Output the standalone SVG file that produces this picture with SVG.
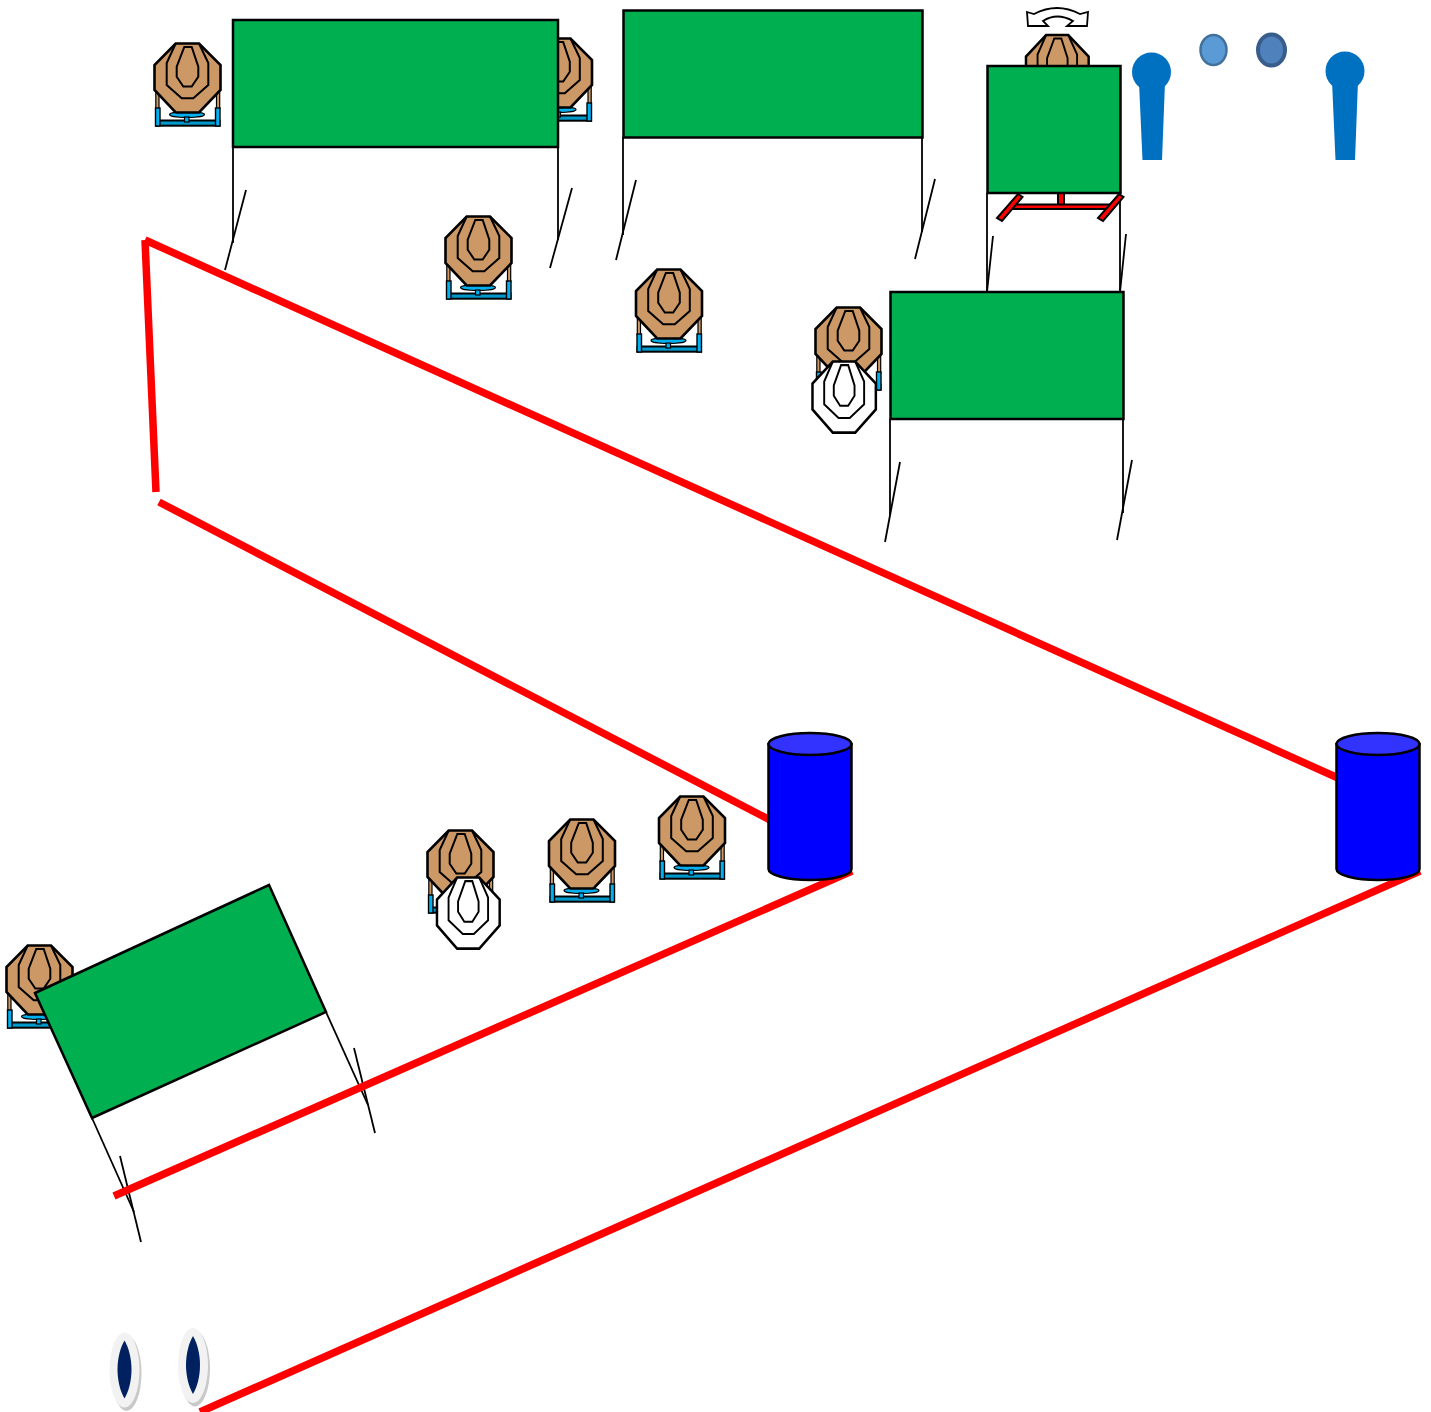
<svg xmlns="http://www.w3.org/2000/svg" xmlns:xlink="http://www.w3.org/1999/xlink" width="1431" height="1412" viewBox="0 0 1431 1412">
<style>
.k{stroke:#000;stroke-width:2.6;stroke-linejoin:miter}
.ring{fill:none;stroke:#000;stroke-width:2;stroke-linejoin:miter}
.board{fill:#00b050;stroke:#000;stroke-width:2.5}
.leg{fill:none;stroke:#000;stroke-width:1.8}
.red{fill:none;stroke:#ff0000;stroke-width:7.500}
.pin{fill:#0070c0}
.drum{fill:#0000ff;stroke:#000;stroke-width:2.5}
.lid{fill:#3333ff;stroke:#000;stroke-width:2.5}
.stand{fill:#ff0000;stroke:#000;stroke-width:2}
.shadow{fill:#c9c9c9}.oval{fill:#f2f2f2}.eye{fill:#002060}
</style>
<defs>
<g id="plate">
<polygon class="k" points="21.700,0.500 45,0.500 66.500,22 66.500,47 45,69.500 21.700,69.500 0.500,47 0.500,22"/>
<path class="ring" d="M21.700 0.500L12.700 20V42L27.700 55.300H39.300L54.300 42V20L45 0.500"/>
<polygon class="ring" points="30.300,4 37.700,4 44.300,23.700 44.300,33.700 37.700,43.500 29.300,43.500 22.700,33.700 22.700,23.700"/>
</g>
<g id="target">
<rect x="1.800" y="46" width="3.200" height="20" fill="#cc9966" stroke="#000" stroke-width="1.200"/>
<rect x="62.500" y="46" width="3.200" height="20" fill="#cc9966" stroke="#000" stroke-width="1.200"/>
<rect x="2" y="77.500" width="63.500" height="5.200" fill="#0099cc" stroke="#000" stroke-width="2"/>
<rect x="1.500" y="65" width="4.500" height="18" fill="#00b0f0" stroke="#000" stroke-width="1.400"/>
<rect x="61.500" y="65" width="4.500" height="18" fill="#00b0f0" stroke="#000" stroke-width="1.400"/>
<ellipse cx="33" cy="71.500" rx="17.500" ry="3" fill="#00b0f0" stroke="#000" stroke-width="1.200"/>
<rect x="30.500" y="74" width="4.500" height="5" fill="#00b0f0" stroke="#000" stroke-width="1.200"/>
<use href="#plate" fill="#cc9966"/>
</g>
</defs>

<g id="connectors">
<line class="leg" x1="233" y1="147" x2="233" y2="243"/><line class="leg" x1="246" y1="190" x2="225" y2="270"/>
<line class="leg" x1="558" y1="147" x2="558" y2="240"/><line class="leg" x1="572" y1="188" x2="550" y2="268"/>
<line class="leg" x1="623" y1="137" x2="623" y2="235"/><line class="leg" x1="636" y1="180" x2="616" y2="260"/>
<line class="leg" x1="922" y1="137" x2="922" y2="232"/><line class="leg" x1="935" y1="179" x2="915" y2="259"/>
<line class="leg" x1="987" y1="193" x2="987" y2="292"/><line class="leg" x1="993" y1="236" x2="987" y2="292"/>
<line class="leg" x1="1120" y1="193" x2="1120" y2="292"/><line class="leg" x1="1126" y1="234" x2="1120" y2="292"/>
<line class="leg" x1="890" y1="419" x2="890" y2="515"/><line class="leg" x1="900" y1="462" x2="885" y2="542"/>
<line class="leg" x1="1123" y1="419" x2="1123" y2="513"/><line class="leg" x1="1132" y1="460" x2="1117" y2="540"/>
<line class="leg" x1="326" y1="1012" x2="368" y2="1105"/><line class="leg" x1="354" y1="1048" x2="375" y2="1133"/>
<line class="leg" x1="92" y1="1118" x2="134" y2="1212"/><line class="leg" x1="120" y1="1156" x2="141" y2="1242"/>
<path class="red" d="M156 492L145 240"/>
<path class="red" d="M145 240L1338 778"/>
<path class="red" d="M159 502L770 820"/>
<path class="red" d="M852 871L114 1196"/>
<path class="red" d="M1420 871L200 1412"/>
</g>

<g id="target-1"><use href="#target" transform="translate(154,43)"/></g>
<g id="target-2"><use href="#target" transform="translate(525.500,38)"/></g>
<g id="target-3"><use href="#target" transform="translate(445,216)"/></g>
<g id="target-4"><use href="#target" transform="translate(635.500,269)"/></g>
<g id="target-5"><use href="#target" transform="translate(815,307)"/></g>
<g id="target-5-white"><use href="#plate" fill="#fff" transform="translate(812,361) scale(.96,1.03)"/></g>
<g id="target-6"><use href="#target" transform="translate(427,830)"/></g>
<g id="target-6-white"><use href="#plate" fill="#fff" transform="translate(436.500,877) scale(.95,1.03)"/></g>
<g id="target-7"><use href="#target" transform="translate(548.500,819)"/></g>
<g id="target-8"><use href="#target" transform="translate(658.500,796)"/></g>
<g id="target-9"><use href="#target" transform="translate(6,945)"/></g>
<g id="target-10"><use href="#plate" fill="#cc9966" transform="translate(1025.500,34.500) scale(.95,1)"/></g>

<g id="board-1"><rect class="board" x="233" y="20" width="325" height="127"/></g>
<g id="board-2"><rect class="board" x="623.500" y="10.500" width="299" height="127"/></g>
<g id="board-3">
<rect class="stand" x="1058" y="193" width="6" height="12"/>
<rect class="stand" x="1011" y="204.500" width="98" height="4.500"/>
<polygon class="stand" points="1018,194 1022.500,197 1002,221 997,218"/>
<polygon class="stand" points="1119,194 1123.500,197 1103,221 1098,218"/>
<rect class="board" x="987.500" y="66" width="133" height="127"/>
</g>
<g id="board-4"><rect class="board" x="890.500" y="292" width="233" height="127"/></g>
<g id="board-5"><polygon class="board" points="35,993 269,885 326,1012 92,1118"/></g>

<g id="swivel"><path d="M1027 12L1034 14Q1057 2 1080 14L1088 12L1087 26L1067 26L1073 21Q1057 12 1043 21L1048 26L1028 26Z" fill="#fff" stroke="#000" stroke-width="1.800"/></g>

<g id="pin-1"><circle class="pin" cx="1151.500" cy="72" r="19.500"/><polygon class="pin" points="1139,82 1165,82 1162,160 1142.500,160"/></g>
<g id="pin-2"><circle class="pin" cx="1345" cy="71" r="19.500"/><polygon class="pin" points="1332,81 1358,81 1355,160 1335.500,160"/></g>
<g id="dot-1"><ellipse cx="1213.500" cy="50" rx="13" ry="15" fill="#5b9bd5" stroke="#41719c" stroke-width="2.500"/></g>
<g id="dot-2"><ellipse cx="1271.500" cy="50" rx="13.500" ry="15.500" fill="#4f81bd" stroke="#385d8a" stroke-width="4"/></g>

<g id="drum-1">
<path class="drum" d="M768.500 744V869A41.500 11 0 0 0 851.500 869V744Z"/>
<ellipse class="lid" cx="810" cy="744" rx="41.500" ry="11"/>
</g>
<g id="drum-2">
<path class="drum" d="M1336.500 744V869A41.500 11 0 0 0 1419.500 869V744Z"/>
<ellipse class="lid" cx="1378" cy="744" rx="41.500" ry="11"/>
</g>

<g id="eye-1">
<ellipse class="shadow" cx="126.500" cy="1373" rx="15" ry="38"/>
<ellipse class="oval" cx="124.500" cy="1370" rx="15" ry="37.500"/>
<path class="eye" d="M124.500 1340.500C128.500 1347 131.500 1358 131.500 1369.500C131.500 1381 128.500 1392 124.500 1398.500C120.500 1392 117.500 1381 117.500 1369.500C117.500 1358 120.500 1347 124.500 1340.500Z"/>
</g>
<g id="eye-2">
<ellipse class="shadow" cx="195" cy="1368.500" rx="15" ry="38"/>
<ellipse class="oval" cx="193" cy="1365.500" rx="15" ry="37.500"/>
<path class="eye" d="M193 1336C197 1342.500 200 1353.500 200 1365C200 1376.500 197 1387.500 193 1394C189 1387.500 186 1376.500 186 1365C186 1353.500 189 1342.500 193 1336Z"/>
</g>
</svg>
